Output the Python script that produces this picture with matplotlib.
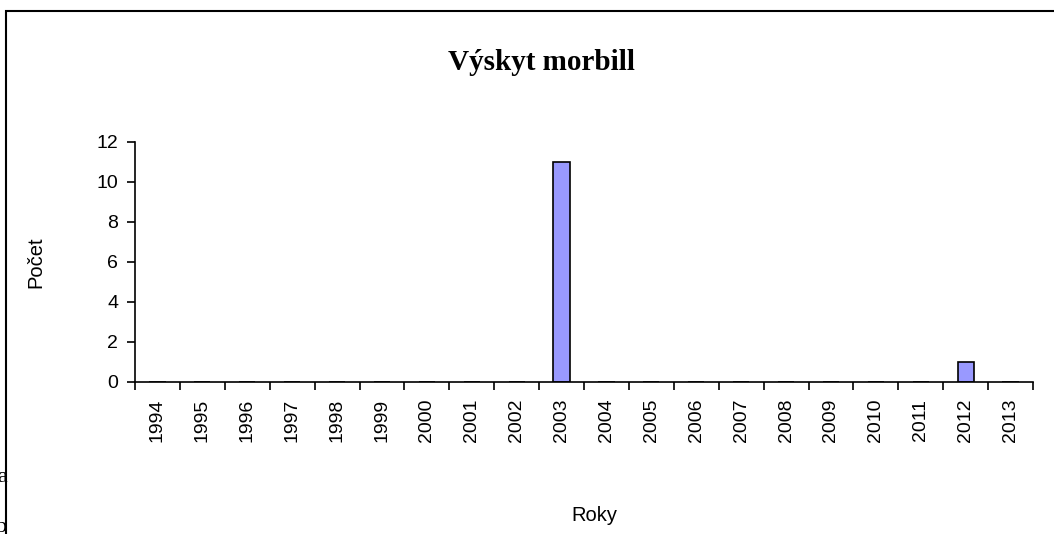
import numpy as np
import matplotlib
matplotlib.use('Agg')
from matplotlib import pyplot as plt
from matplotlib.patches import Rectangle

years = [str(y) for y in range(1994, 2014)]
counts = [0, 0, 0, 0, 0, 0, 0, 0, 0, 11, 0, 0, 0, 0, 0, 0, 0, 0, 1, 0]

plt.rcParams['font.family'] = ['Liberation Sans', 'DejaVu Sans']

fig = plt.figure(figsize=(10.54, 5.34), dpi=100)
fig.patch.set_facecolor('white')

# outer chart border (extends past right/bottom edge)
fig.patches.append(Rectangle((6 / 1054, -0.1), 1.2, 1 - 11 / 534 + 0.1,
                             transform=fig.transFigure, fill=False,
                             edgecolor='black', linewidth=1.5))

ax = fig.add_axes([135 / 1054, 1 - 382 / 534, (1033 - 135) / 1054, 240 / 534])

x = np.arange(len(years))
ax.bar(x, counts, width=0.36, color='#9999FF', edgecolor='black', linewidth=1.2)

ax.set_xlim(-0.5, len(years) - 0.5)
ax.set_ylim(0, 12)
ax.set_yticks(range(0, 13, 2))

ax.set_xticks(x)
ax.set_xticklabels(years, rotation=90, fontsize=14)
ax.set_xticks(np.arange(len(years) + 1) - 0.5, minor=True)
ax.tick_params(axis='x', which='major', length=0, pad=12)
ax.tick_params(axis='x', which='minor', length=6, width=1.2, direction='out')
ax.tick_params(axis='y', length=6, width=1.2, direction='out', labelsize=14, pad=6)

for s in ['top', 'right']:
    ax.spines[s].set_visible(False)
for s in ['left', 'bottom']:
    ax.spines[s].set_linewidth(1.2)

ax.set_ylabel('Počet', fontsize=14.5)
ax.yaxis.set_label_coords(-0.1, 0.5)
ax.set_xlabel('Roky', fontsize=14.5)
ax.xaxis.set_label_coords(0.512, -0.515)

fig.text(541 / 1054, 1 - 62 / 534, 'Výskyt morbill', ha='center', va='center',
         fontsize=21, fontweight='bold', family=['Liberation Serif', 'DejaVu Serif'])

# clipped text fragments at the left edge
fig.text(-3 / 1054, 1 - 478 / 534, 'a', ha='left', va='center', fontsize=16,
         family=['Liberation Serif', 'DejaVu Serif'])
fig.text(-4 / 1054, 1 - 527 / 534, 'b', ha='left', va='center', fontsize=16,
         family=['Liberation Serif', 'DejaVu Serif'])

fig.savefig('out.png', dpi=100, facecolor='white')
